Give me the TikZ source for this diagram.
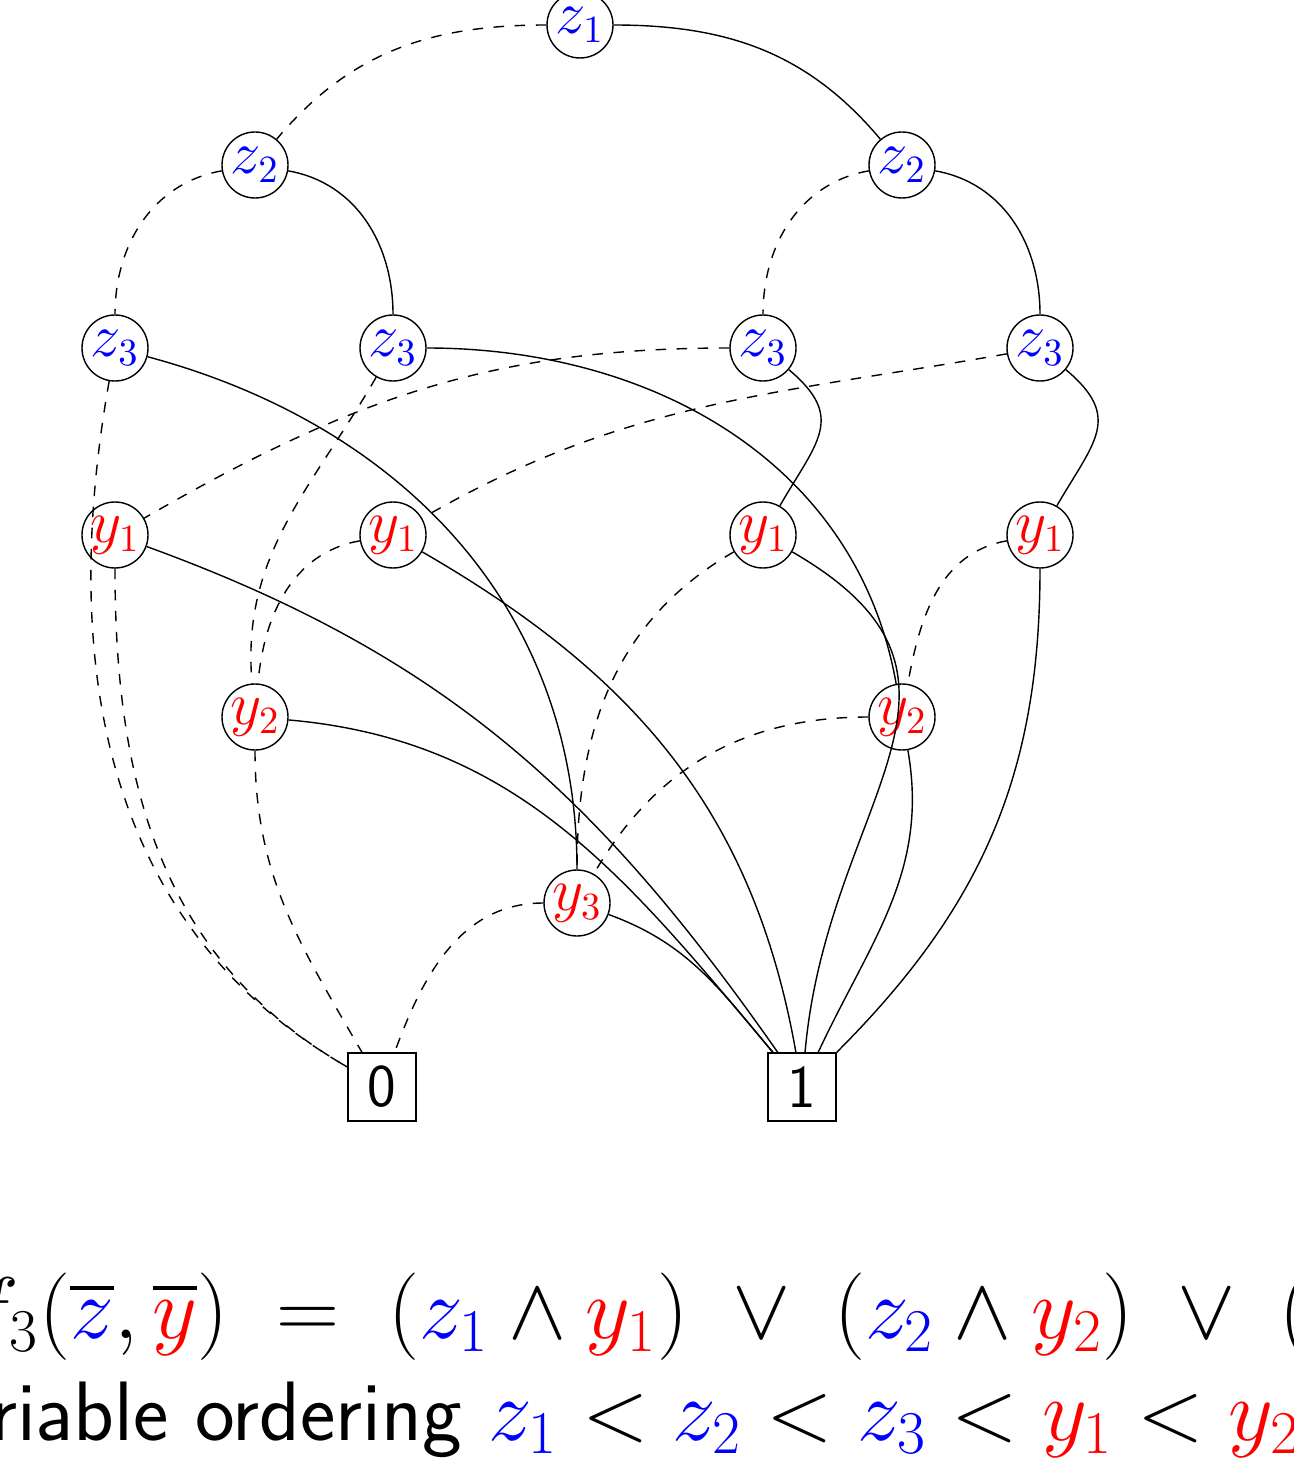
\documentclass[tikz,border=0pt]{standalone}
\usepackage{amsmath}
\usetikzlibrary{positioning}
\begin{document}
\begin{tikzpicture}[
  zvar/.style={draw, circle, minimum size=0.66cm, inner sep=0pt, font=\fontsize{16}{18}\selectfont, text=blue},
  yvar/.style={draw, circle, minimum size=0.66cm, inner sep=0pt, font=\fontsize{16}{18}\selectfont, text=red},
  leaf/.style={draw, minimum size=0.68cm, inner sep=0pt, font=\LARGE\sffamily},
  lo/.style={dashed},
  hi/.style={}
]
\useasboundingbox (0,0) rectangle (12.93,-14.76);

% variable nodes
\node[zvar] (z1)  at (5.80,-0.25) {$z_1$};
\node[zvar] (z2a) at (2.55,-1.65) {$z_2$};
\node[zvar] (z2b) at (9.02,-1.65) {$z_2$};
\node[zvar] (z3a) at (1.15,-3.48) {$z_3$};
\node[zvar] (z3b) at (3.93,-3.48) {$z_3$};
\node[zvar] (z3c) at (7.63,-3.48) {$z_3$};
\node[zvar] (z3d) at (10.40,-3.48) {$z_3$};
\node[yvar] (y1a) at (1.15,-5.35) {$y_1$};
\node[yvar] (y1b) at (3.93,-5.35) {$y_1$};
\node[yvar] (y1c) at (7.63,-5.35) {$y_1$};
\node[yvar] (y1d) at (10.40,-5.35) {$y_1$};
\node[yvar] (y2a) at (2.55,-7.17) {$y_2$};
\node[yvar] (y2b) at (9.02,-7.17) {$y_2$};
\node[yvar] (y3)  at (5.77,-9.03) {$y_3$};

% terminals
\node[leaf] (f0) at (3.82,-10.87) {0};
\node[leaf] (f1) at (8.02,-10.87) {1};

% z edges
\draw[lo] (z1) to[out=180,in=50] (z2a);
\draw[hi] (z1) to[out=0,in=130] (z2b);
\draw[lo] (z2a) to[out=190,in=90] (z3a);
\draw[hi] (z2a) to[out=-10,in=90] (z3b);
\draw[lo] (z2b) to[out=190,in=90] (z3c);
\draw[hi] (z2b) to[out=-10,in=90] (z3d);
\draw[lo] (z3a) to[out=-100,in=150] (f0);
\draw[hi] (z3a) to[out=-15,in=90] (y3);
\draw[lo] (z3b) to[out=-120,in=95] (y2a);
\draw[hi] (z3b) to[out=0,in=100] (y2b);
\draw[lo] (z3c) to[out=180,in=30] (y1a);
\draw[hi] (z3c) to[out=-40,in=60,looseness=1.4] (y1c);
\draw[lo] (z3d) to[out=190,in=30] (y1b);
\draw[hi] (z3d) to[out=-40,in=60,looseness=1.4] (y1d);

% y edges
\draw[lo] (y1a) to[out=-90,in=150] (f0);
\draw[hi] (y1a) to[out=-20,in=125] (f1);
\draw[lo] (y1b) to[out=190,in=85] (y2a);
\draw[hi] (y1b) to[out=-30,in=100] (f1);
\draw[lo] (y1c) to[out=-150,in=90] (y3);
\draw[hi] (y1c) to[out=-30,in=85,looseness=1.3] (f1);
\draw[lo] (y1d) to[out=190,in=80] (y2b);
\draw[hi] (y1d) to[out=-90,in=45] (f1);
\draw[lo] (y2a) to[out=-90,in=120] (f0);
\draw[hi] (y2a) to[out=-5,in=130] (f1);
\draw[lo] (y2b) to[out=180,in=60] (y3);
\draw[hi] (y2b) to[out=-80,in=65] (f1);
\draw[lo] (y3) to[out=180,in=70] (f0);
\draw[hi] (y3) to[out=-20,in=130] (f1);

% formula and ordering
\node[anchor=base west, inner sep=0pt, font=\fontsize{23}{28}\selectfont] (fml) at (-0.33,-13.38)
  {$f_3(\overline{\color{blue}z},\overline{\color{red}y})\;=\;(\textcolor{blue}{z_1}\wedge\textcolor{red}{y_1})\;\vee\;(\textcolor{blue}{z_2}\wedge\textcolor{red}{y_2})\;\vee\;(\textcolor{blue}{z_3}\wedge\textcolor{red}{y_3})$};
\node[anchor=base west, inner sep=0pt, font=\fontsize{24}{29}\selectfont\sffamily] (ord) at (-0.97,-14.40)
  {Variable ordering $\textcolor{blue}{z_1}<\textcolor{blue}{z_2}<\textcolor{blue}{z_3}<\textcolor{red}{y_1}<\textcolor{red}{y_2}<\textcolor{red}{y_3}$};
\end{tikzpicture}
\end{document}
